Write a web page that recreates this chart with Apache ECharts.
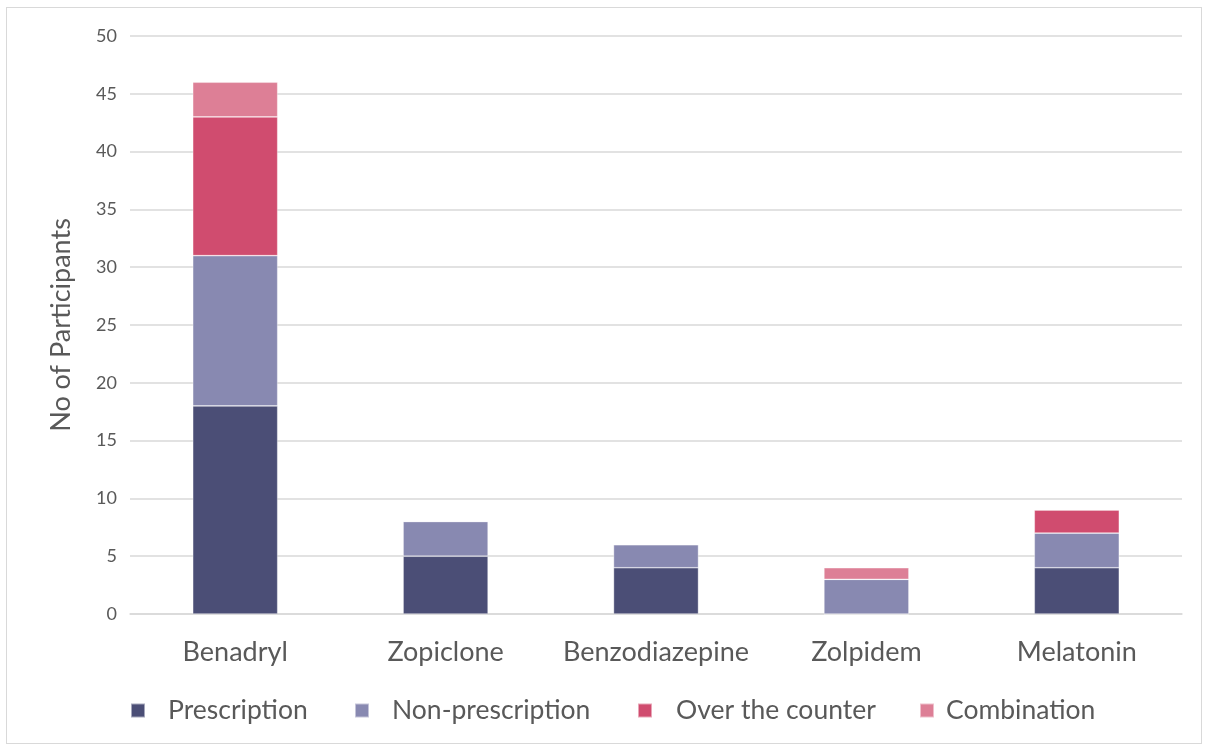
<!DOCTYPE html>
<html><head><meta charset="utf-8">
<script src="https://cdn.jsdelivr.net/npm/echarts@6/dist/echarts.min.js"></script>
<style>
html,body{margin:0;padding:0;background:#fff;}
#frame{position:absolute;left:6px;top:7px;width:1196px;height:737px;border:1px solid #d9d9d9;box-sizing:border-box;}
#c{position:absolute;left:0;top:0;width:1209px;height:749px;}
</style></head><body>
<div id="frame"></div>
<div id="c"></div>
<script>
const categories = ['Benadryl','Zopiclone','Benzodiazepine','Zolpidem','Melatonin'];
const prescription = [18,5,4,0,4];
const nonPrescription = [13,3,2,3,3];
const overTheCounter = [12,0,0,0,2];
const combination = [3,0,0,1,0];
const seriesNames = ['Prescription','Non-prescription','Over the counter','Combination'];
const colors = ['#4b4e76','#8889b1','#d04c6f','#dd7f96'];
const FONT = 'Lato';
const chart = echarts.init(document.getElementById('c'));
const dataList = [prescription, nonPrescription, overTheCounter, combination];
const legendLefts = [130, 354, 637, 919];
const legendGaps = [23, 23, 24, 12];
chart.setOption({
  animation:false,
  textStyle:{fontFamily:FONT},
  grid:{left:130,right:27,top:36,bottom:135},
  legend: seriesNames.map((n,i)=>({
    data:[n], left:legendLefts[i], top:697, itemWidth:14, itemHeight:14, itemGap:0,
    icon:'rect', padding:0,
    textStyle:{fontFamily:FONT,fontSize:26.5,color:'#595959',padding:[0,0,0,legendGaps[i]-5]}
  })),
  xAxis:{type:'category',data:categories,
    axisLine:{lineStyle:{color:'#d9d9d9',width:1.5}},axisTick:{show:false},
    axisLabel:{interval:0,fontFamily:FONT,fontSize:27,color:'#595959',margin:25}},
  yAxis:{type:'value',min:0,max:50,interval:5,
    name:'No of Participants',nameLocation:'middle',nameGap:55,
    nameTextStyle:{fontFamily:FONT,fontSize:27,color:'#595959'},
    axisLine:{show:false},axisTick:{show:false},
    axisLabel:{fontFamily:FONT,fontSize:18,color:'#595959',margin:13},
    splitLine:{lineStyle:{color:'#d9d9d9',width:1.5}}},
  series: seriesNames.map((n,i)=>({
    name:n,type:'bar',stack:'total',barWidth:85,data:dataList[i],
    itemStyle:{color:colors[i],borderColor:'rgba(255,255,255,0.5)',borderWidth:0.7}
  }))
});
</script></body></html>
